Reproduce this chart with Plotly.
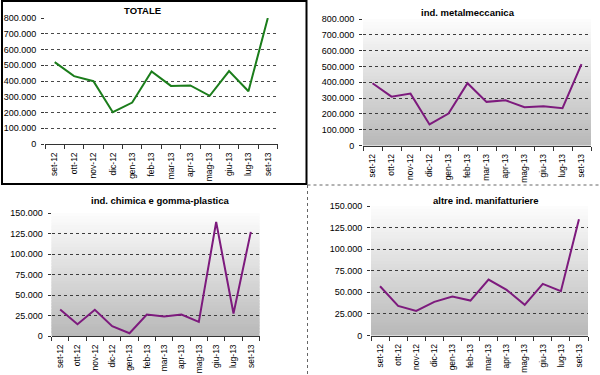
import plotly.graph_objects as go

months = ["set-12", "ott-12", "nov-12", "dic-12", "gen-13", "feb-13",
          "mar-13", "apr-13", "mag-13", "giu-13", "lug-13", "set-13"]

totale = [520000, 431000, 399000, 202000, 263000, 461000,
          369000, 372000, 306000, 463000, 335000, 800000]
metalmeccanica = [394000, 309000, 328000, 133000, 202000, 394000,
                  276000, 286000, 242000, 248000, 236000, 514000]
chimica = [32300, 14300, 31900, 11900, 3300, 26200,
           23700, 26200, 17200, 139000, 27400, 127000]
altre = [57100, 34300, 28500, 39000, 45100, 40500,
         64800, 52800, 35500, 59800, 51300, 134600]

titles = ["TOTALE", "ind. metalmeccanica",
          "ind. chimica e gomma-plastica", "altre ind. manifatturiere"]
ticks_big = [0, 100000, 200000, 300000, 400000, 500000, 600000, 700000, 800000]
ticks_small = [0, 25000, 50000, 75000, 100000, 125000, 150000]

W, H = 600, 375
def px(x):
    return x / W
def py(y):
    return 1 - y / H

# (x_left, x_right, y_top, y_bottom) in pixels
boxes = [(45, 277.5, 18, 144), (363, 591, 19, 145.5),
         (51.5, 259.5, 213, 336), (371, 588, 206, 335.5)]
series = [totale, metalmeccanica, chimica, altre]
colors = ["#1b7d1b", "#7d1a7d", "#7d1a7d", "#7d1a7d"]
yranges = [[0, 800000], [0, 800000], [0, 150000], [0, 150000]]
yticks = [ticks_big, ticks_big, ticks_small, ticks_small]
title_pos = [(142, 11), (468, 13), (160, 200), (486, 200)]

fig = go.Figure()
font = "Liberation Sans, Arial, sans-serif"
layout = dict(width=W, height=H, margin=dict(l=0, r=0, t=0, b=0, autoexpand=False),
              paper_bgcolor="white", plot_bgcolor="rgba(0,0,0,0)",
              showlegend=False, font=dict(family=font, size=9, color="black"))
shapes = []
annotations = []

for i in range(4):
    n = "" if i == 0 else str(i + 1)
    xl, xr, yt, yb = boxes[i]
    fig.add_trace(go.Scatter(x=months, y=series[i], mode="lines",
                             line=dict(color=colors[i], width=2),
                             xaxis="x" + n, yaxis="y" + n,
                             hoverinfo="skip"))
    layout["xaxis" + n] = dict(domain=[px(xl), px(xr)], anchor="y" + n,
                               type="category", range=[-0.5, 11.5],
                               tickangle=-90, tickfont=dict(size=8.5),
                               showline=True, linecolor="#333", linewidth=1,
                               ticks="outside", ticklen=4, tickcolor="#333",
                               tickson="boundaries", showgrid=False,
                               zeroline=False, fixedrange=True,
                               automargin=False, ticklabelstandoff=4)
    layout["yaxis" + n] = dict(domain=[py(yb), py(yt)], anchor="x" + n,
                               range=yranges[i], tickvals=yticks[i],
                               ticktext=[f"{v:,}".replace(",", ".") for v in yticks[i]],
                               tickfont=dict(size=9),
                               showline=False, ticks="outside", ticklen=3,
                               tickcolor="#333", showgrid=True,
                               gridcolor="#4a4a4a" if i == 0 else "#3c3c3c",
                               griddash="dot", gridwidth=1,
                               zeroline=False, fixedrange=True,
                               automargin=False, ticklabelstandoff=3)
    tx, ty = title_pos[i]
    annotations.append(dict(text="<b>" + titles[i] + "</b>", x=px(tx), y=py(ty),
                            xref="paper", yref="paper", showarrow=False,
                            xanchor="center", yanchor="middle",
                            font=dict(size=9.5, family=font, color="black")))
    if i > 0:
        nstrip = 40
        for k in range(nstrip):
            t = (k + 0.5) / nstrip  # 0 bottom -> 1 top
            g = int(round(0xb8 + (0xfd - 0xb8) * t))
            shapes.append(dict(type="rect", xref="x" + n + " domain",
                               yref="y" + n + " domain",
                               x0=0, x1=1, y0=k / nstrip,
                               y1=min(1.0, (k + 1) / nstrip + 0.02),
                               fillcolor=f"rgb({g},{g},{g})",
                               line=dict(width=0), layer="below"))

# panel 1 frame and separators
shapes.append(dict(type="rect", xref="paper", yref="paper",
                   x0=px(2), x1=px(306.5), y0=py(184), y1=py(1),
                   line=dict(color="black", width=2), fillcolor="rgba(0,0,0,0)"))
shapes.append(dict(type="line", xref="paper", yref="paper",
                   x0=px(307.5), x1=px(307.5), y0=py(185), y1=0,
                   line=dict(color="#666", width=1, dash="dot")))
shapes.append(dict(type="line", xref="paper", yref="paper",
                   x0=px(307.5), x1=1, y0=py(185), y1=py(185),
                   line=dict(color="#666", width=1, dash="dot")))

layout["shapes"] = shapes
layout["annotations"] = annotations
fig.update_layout(**layout)
fig.write_html("out.html", config={"displayModeBar": False},
               post_script="document.body.style.margin='0';document.body.style.padding='0';")
